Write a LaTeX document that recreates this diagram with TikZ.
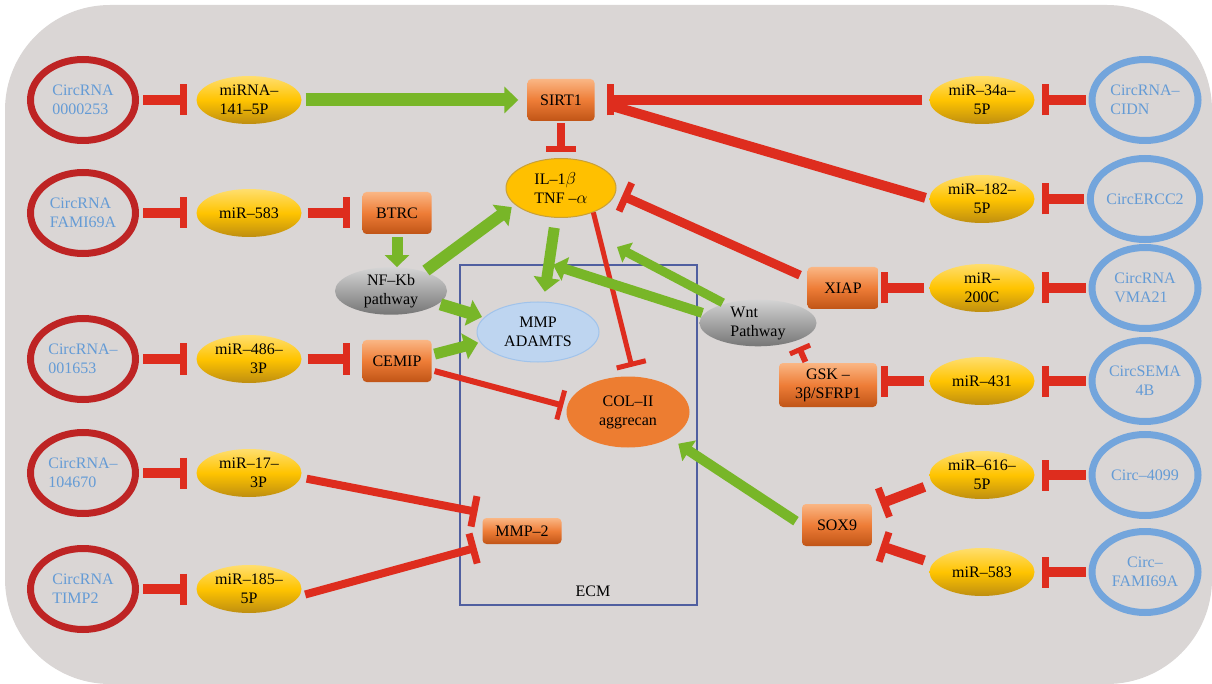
\documentclass[tikz,border=0pt]{standalone}
\usepackage{fontspec}
\setmainfont{Liberation Serif}
\usetikzlibrary{shapes.geometric}
\usetikzlibrary{arrows.meta}

\definecolor{bggrey}{RGB}{218,214,213}
\definecolor{ringred}{RGB}{190,36,36}
\definecolor{ringblue}{RGB}{115,165,220}
\definecolor{ringtext}{RGB}{100,155,213}
\definecolor{inhred}{RGB}{222,45,30}
\definecolor{actgreen}{RGB}{120,182,40}
\definecolor{yeltop}{RGB}{255,222,110}
\definecolor{yelmid}{RGB}{255,196,0}
\definecolor{yelbot}{RGB}{190,142,16}
\definecolor{oratop}{RGB}{250,182,132}
\definecolor{oramid}{RGB}{238,125,55}
\definecolor{orabot}{RGB}{192,84,22}
\definecolor{greytop}{RGB}{212,212,212}
\definecolor{greybot}{RGB}{118,118,118}
\definecolor{ilyel}{RGB}{255,192,0}
\definecolor{illine}{RGB}{200,160,56}
\definecolor{mmpblue}{RGB}{190,213,240}
\definecolor{mmpline}{RGB}{160,195,235}
\definecolor{colorange}{RGB}{237,125,49}
\definecolor{ecmblue}{RGB}{80,95,160}

\begin{document}
\begin{tikzpicture}
  [x=1pt,y=-1pt,font=\fontsize{16}{19}\selectfont,
  redring/.style={ellipse,draw=ringred,line width=7pt,minimum width=105pt,minimum height=81pt,inner sep=0pt,text=ringtext,align=left},
  bluering/.style={ellipse,draw=ringblue,line width=7pt,minimum width=106pt,minimum height=81pt,inner sep=0pt,text=ringtext,align=left},
  mirdot/.style={ellipse,top color=yeltop,bottom color=yelbot,middle color=yelmid,minimum width=105pt,minimum height=48pt,inner sep=0pt,align=center},
  genebox/.style={rectangle,rounded corners=4pt,top color=oratop,bottom color=orabot,middle color=oramid,minimum width=69pt,minimum height=42pt,inner sep=2pt,align=center},
  pathdot/.style={ellipse,top color=greytop,bottom color=greybot,minimum width=117pt,minimum height=45pt,inner sep=0pt,align=left},
  inhibit/.style={draw=inhred,line width=10pt,-{Bar[width=31pt,line width=7pt]}},
  activate/.style={draw=actgreen,line width=12pt,-{Triangle[width=26pt,length=14pt]}}]

  \useasboundingbox (0,0) rectangle (1212,684);
  \fill [bggrey,rounded corners=105pt] (5,5) rectangle (1212,684);
  \draw [ecmblue,line width=1.2pt] (460,265) rectangle (697,605);

  \node[redring] (cl1) at (83,100) {CircRNA\\0000253};
  \node[redring] (cl2) at (83,213) {CircRNA\\FAMI69A};
  \node[redring] (cl3) at (83,359) {CircRNA–\\001653};
  \node[redring] (cl4) at (83,473) {CircRNA–\\104670};
  \node[redring] (cl5) at (83,589) {CircRNA\\TIMP2};

  \node[mirdot,align=left] (ml1) at (249,100) {miRNA–\\141–5P};
  \node[mirdot] (ml2) at (249,213) {miR–583};
  \node[mirdot] (ml3) at (249,359) {miR–486–\\\hspace*{1.2em}3P};
  \node[mirdot] (ml4) at (249,473) {miR–17–\\\hspace*{1.2em}3P};
  \node[mirdot] (ml5) at (249,589) {miR–185–\\5P};

  \node[genebox,minimum width=67pt] (sirt) at (561,100) {SIRT1};
  \node[genebox] (btrc) at (397,213) {BTRC};
  \node[genebox] (cemip) at (397,361) {CEMIP};
  \node[genebox,minimum width=79pt,minimum height=26pt] (mmp2) at (522,531) {MMP–2};
  \node[genebox,minimum width=71pt] (xiap) at (843,288) {XIAP};
  \node[genebox,minimum width=98pt,minimum height=44pt] (gsk) at (828,385) {GSK –\\3β/SFRP1};
  \node[genebox,minimum width=70pt] (sox9) at (837,525) {SOX9};

  \node[ellipse,fill=ilyel,draw=illine,line width=1pt,minimum width=110pt,minimum height=59pt,inner sep=0pt,align=left] (il) at (561,188) {IL–1$\beta$\\TNF –$\alpha$};
  \node[pathdot,minimum width=112pt,minimum height=46pt,align=center] (nfkb) at (391,291) {NF–Kb\\pathway};
  \node[pathdot] (wnt) at (758,323) {Wnt\\Pathway};
  \node[ellipse,fill=mmpblue,draw=mmpline,line width=1pt,minimum width=122pt,minimum height=60pt,inner sep=0pt,align=center] (mmp) at (538,332) {MMP\\ADAMTS};
  \node[ellipse,fill=colorange,minimum width=123pt,minimum height=71pt,inner sep=0pt,align=center] (col) at (628,412) {COL–II\\aggrecan};
  \node (ecm) at (593,591) {ECM};

  \node[mirdot] (mr1) at (982,100) {miR–34a–\\5P};
  \node[mirdot] (mr2) at (982,199) {miR–182–\\5P};
  \node[mirdot] (mr3) at (982,288) {miR–\\200C};
  \node[mirdot] (mr4) at (982,381) {miR–431};
  \node[mirdot] (mr5) at (982,475) {miR–616–\\5P};
  \node[mirdot] (mr6) at (982,572) {miR–583};

  \node[bluering] (cr1) at (1145,100) {CircRNA–\\CIDN};
  \node[bluering] (cr2) at (1145,199) {CircERCC2};
  \node[bluering] (cr3) at (1145,288) {CircRNA\\VMA21};
  \node[bluering,align=center] (cr4) at (1145,381) {CircSEMA\\4B};
  \node[bluering] (cr5) at (1145,475) {Circ–4099};
  \node[bluering,align=center] (cr6) at (1145,572) {Circ–\\FAMI69A};

  \coordinate (wmmp) at (553,265);
  \coordinate (wil) at (617,247);

  \draw [inhibit,shorten <=4pt,shorten >=9pt] (cl1) -- (ml1);
  \draw [inhibit,shorten <=4pt,shorten >=9pt] (cl2) -- (ml2);
  \draw [inhibit,shorten <=4pt,shorten >=9pt] (cl3) -- (ml3);
  \draw [inhibit,shorten <=4pt,shorten >=9pt] (cl4) -- (ml4);
  \draw [inhibit,shorten <=4pt,shorten >=9pt] (cl5) -- (ml5);

  \draw [activate,line width=13pt,shorten <=4pt,shorten >=9pt] (ml1) -- (sirt);
  \draw [inhibit,shorten <=6pt,shorten >=12pt] (ml2) -- (btrc);
  \draw [inhibit,shorten <=6pt,shorten >=12pt] (ml3.east) -- (ml3.east -| cemip.west);
  \draw [inhibit,line width=8pt,shorten <=6pt,shorten >=5pt] (ml4.-5) -- ([yshift=18pt]mmp2.west);
  \draw [inhibit,line width=8pt,shorten <=6pt,shorten >=6pt] (ml5.-8) -- ([yshift=-15pt]mmp2.west);

  \draw [inhibit,line width=8pt,-{Bar[width=30pt,line width=6pt]},shorten <=2pt,shorten >=6pt] (sirt) -- (il);
  \draw [activate,line width=11pt,-{Triangle[width=24pt,length=12pt]},shorten <=3pt] (btrc.south) -- (btrc.south |- nfkb.north);
  \draw [activate,shorten <=2pt,shorten >=4pt] (nfkb.30) -- (il.200);
  \draw [activate,shorten <=2pt,shorten >=2pt] (nfkb.-15) -- (mmp.165);
  \draw [activate,line width=11pt,shorten <=10pt,shorten >=10pt] (il.-100) -- (mmp.80);
  \draw [activate,line width=11pt,shorten <=3pt,shorten >=2pt] (cemip.10) -- (mmp.190);
  \draw [inhibit,line width=5pt,-{Bar[width=30pt,line width=5pt]},shorten >=10pt] (il.-37) -- (col.80);
  \draw [inhibit,line width=6pt,-{Bar[width=30pt,line width=5pt]},shorten <=3pt,shorten >=4pt] (cemip.-15) -- (col.175);

  \draw [inhibit,shorten <=3pt,shorten >=7pt] (cr1) -- (mr1);
  \draw [inhibit,shorten <=3pt,shorten >=7pt] (cr2) -- (mr2);
  \draw [inhibit,shorten <=3pt,shorten >=7pt] (cr3) -- (mr3);
  \draw [inhibit,shorten <=3pt,shorten >=7pt] (cr4) -- (mr4);
  \draw [inhibit,shorten <=3pt,shorten >=7pt] (cr5) -- (mr5);
  \draw [inhibit,shorten <=3pt,shorten >=7pt] (cr6) -- (mr6);

  \draw [inhibit,shorten <=7pt,shorten >=12pt] (mr1) -- (sirt);
  \draw [inhred,line width=10pt,shorten <=4pt] (mr2.west) -- ([xshift=14pt,yshift=-5pt]sirt.east);
  \draw [inhibit,shorten <=5pt,shorten >=2pt] (mr3) -- (xiap);
  \draw [inhibit,shorten <=5pt,shorten >=4pt] (mr4.west) -- (mr4.west -| gsk.east);
  \draw [inhibit,shorten <=9pt,shorten >=9pt] (mr5.190) -- ([yshift=18pt]sox9.east);
  \draw [inhibit,shorten <=9pt,shorten >=9pt] (mr6.170) -- ([yshift=-18pt]sox9.east);

  \draw [inhibit,line width=9pt,-{Bar[width=31pt,line width=7pt]},shorten <=8pt,shorten >=7pt] (xiap.165) -- (il.-5);
  \draw [inhibit,line width=6pt,-{Bar[width=22pt,line width=5pt]},shorten <=1pt,shorten >=7pt] (gsk.135) -- (wnt.-25);
  \draw [activate,line width=10pt,-{Triangle[width=24pt,length=13pt]},shorten <=2pt] (wnt.170) -- (wmmp);
  \draw [activate,line width=9pt,-{Triangle[width=22pt,length=12pt]},shorten <=2pt] (wnt.150) -- (wil);
  \draw [activate,line width=10pt,-{Triangle[width=24pt,length=13pt]},shorten <=7pt,shorten >=10pt] (sox9.west) -- (col.-32);

  \end{tikzpicture}
\end{document}
